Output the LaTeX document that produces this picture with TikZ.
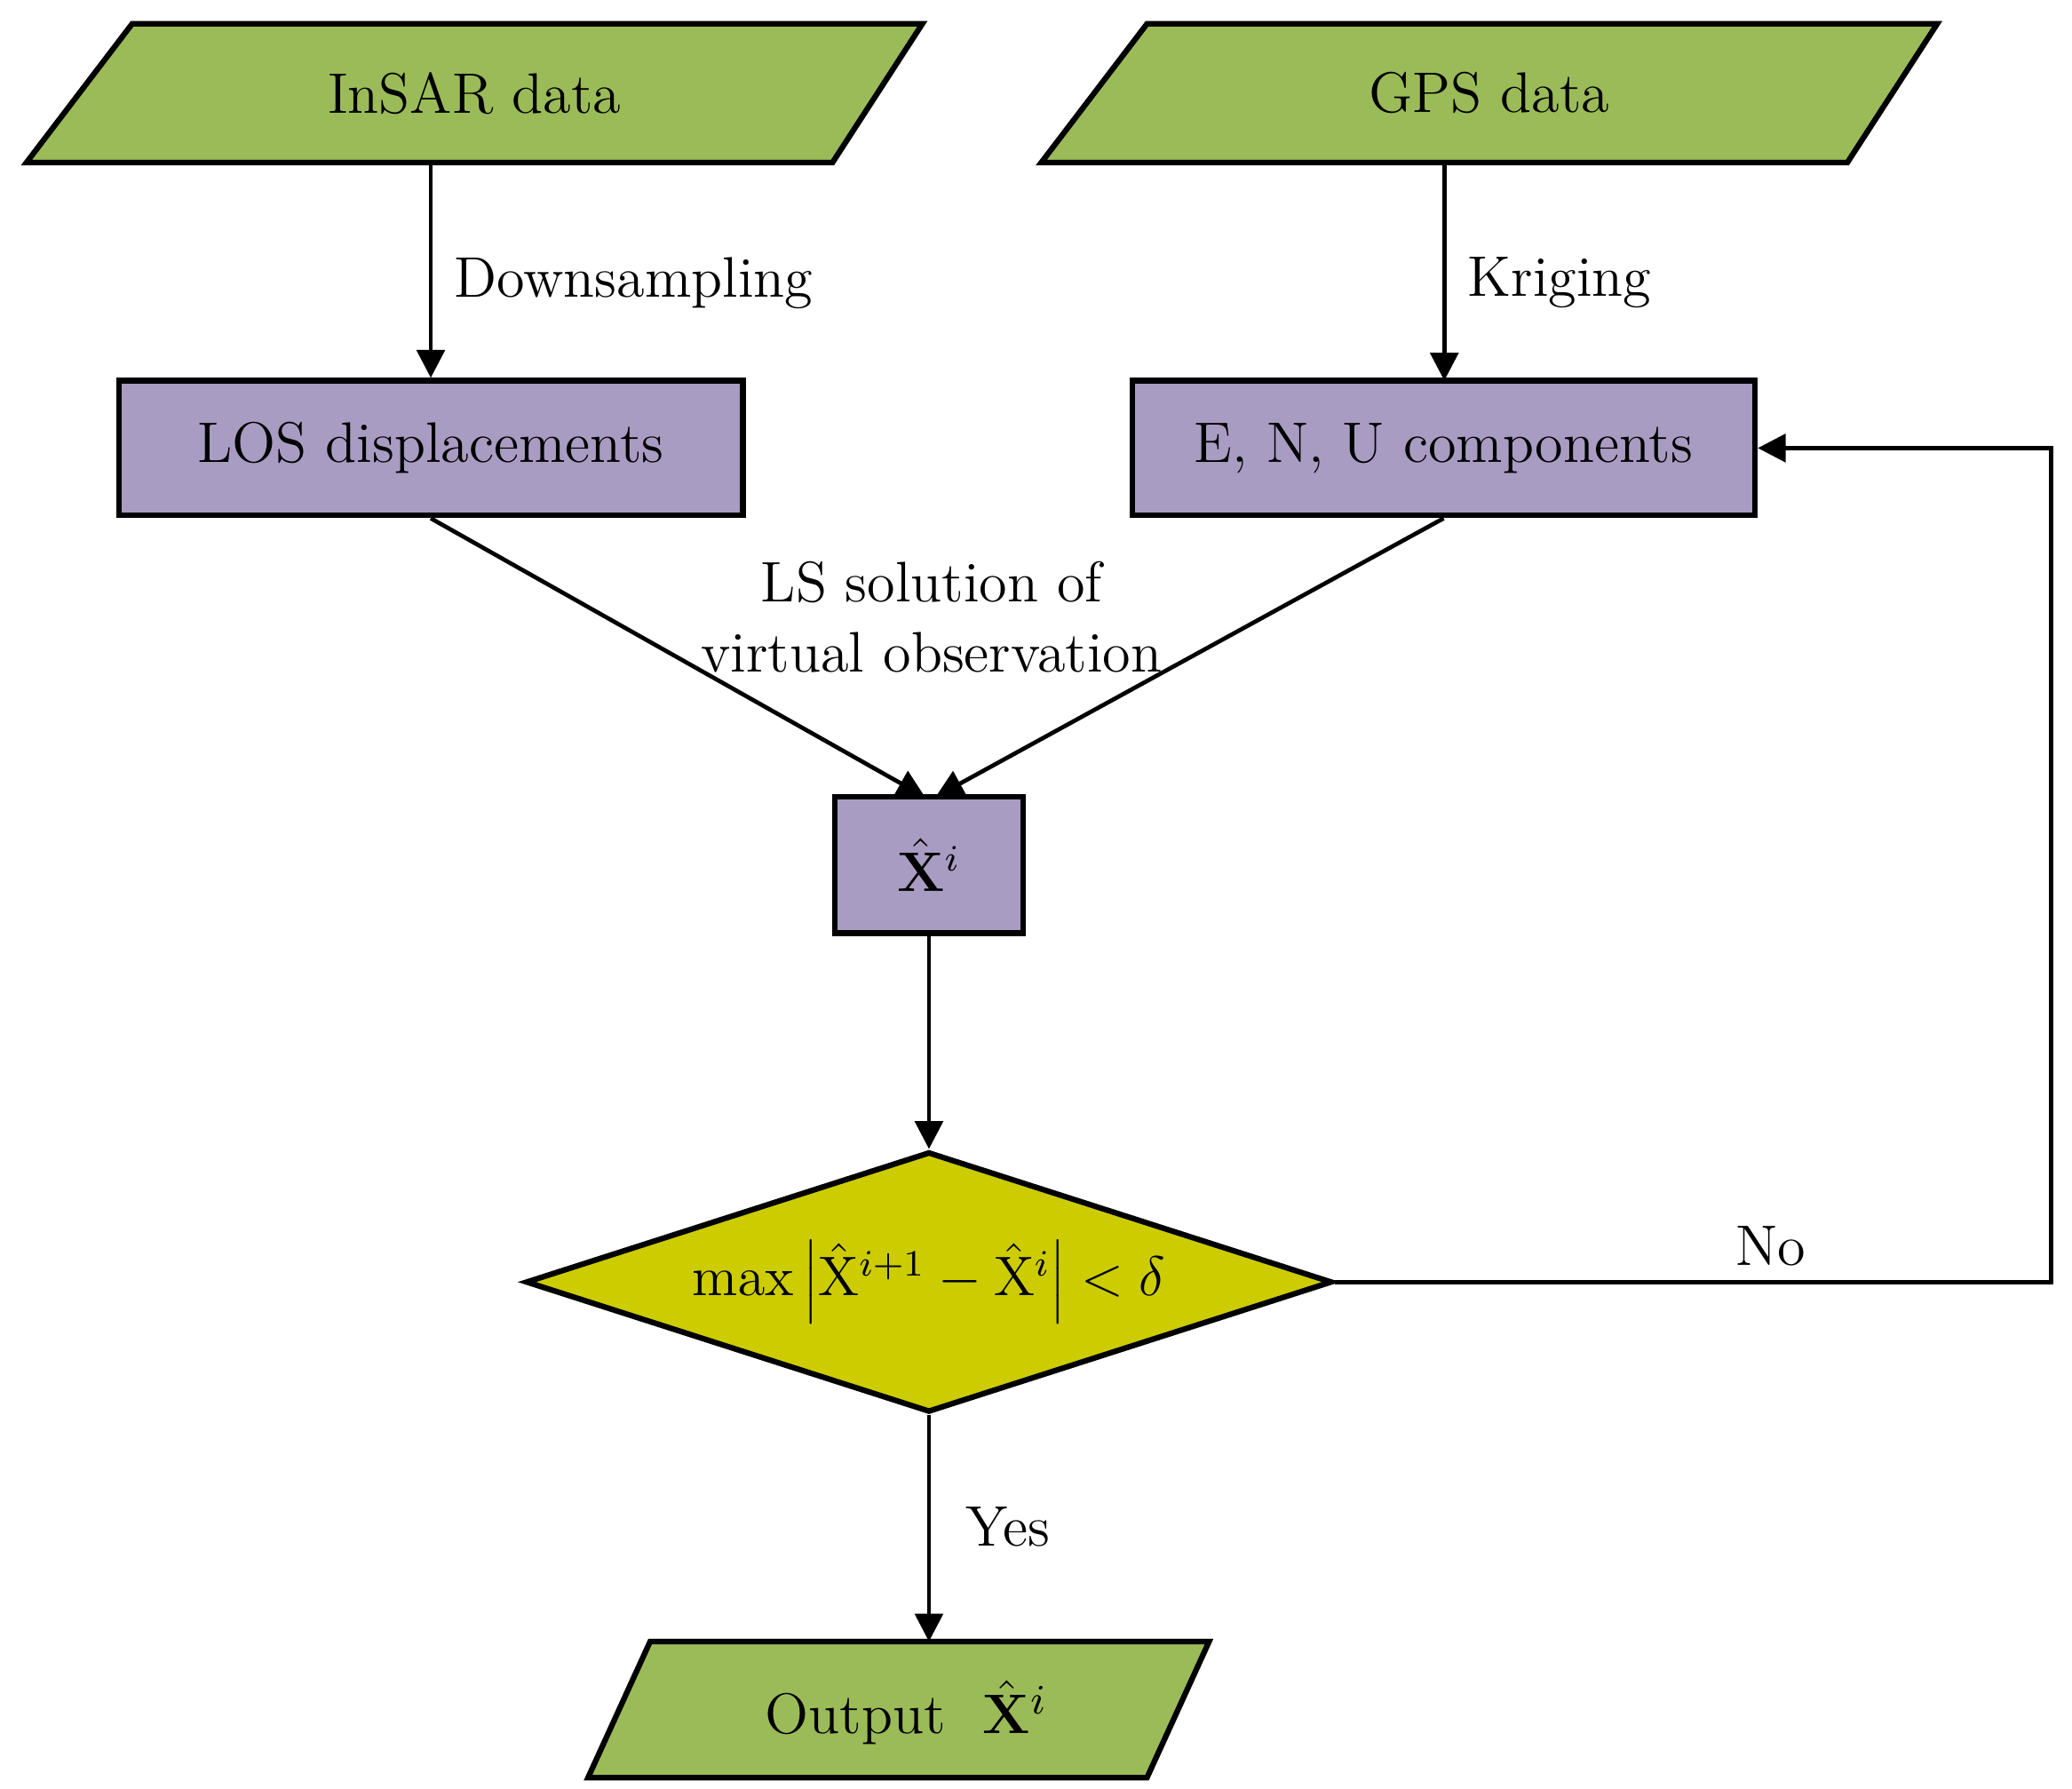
\documentclass[tikz,border=0pt]{standalone}
\usetikzlibrary{shapes.geometric,arrows.meta}
\definecolor{grn}{HTML}{9BBB59}
\definecolor{prp}{HTML}{A99CC3}
\definecolor{ylw}{HTML}{CCCC00}
\begin{document}
\fontsize{12.3}{15}\selectfont
\begin{tikzpicture}[x=0.01cm,y=-0.01cm,
  shp/.style={draw=black,line width=1.2pt},
  box/.style={shp,fill=prp,rectangle,inner sep=0pt},
  lbl/.style={inner sep=0pt},
  arr/.style={line width=0.9pt,-{Triangle[length=6pt,width=6pt]}}]
\useasboundingbox (0,0) rectangle (1568,1353);
% parallelograms
\filldraw[shp,fill=grn] (100,18)--(698,18)--(630,123)--(20,123)--cycle;
\node[lbl,minimum width=6.1cm,minimum height=1.05cm] (insar) at (359,70.5) {InSAR data};
\filldraw[shp,fill=grn] (868,18)--(1466,18)--(1398,123)--(788,123)--cycle;
\node[lbl,minimum width=6.1cm,minimum height=1.05cm] (gps) at (1127,70.5) {GPS data};
\filldraw[shp,fill=grn] (492,1242)--(915,1242)--(868,1345)--(445,1345)--cycle;
\node[lbl,minimum width=4.23cm,minimum height=1.03cm] (out) at (686,1296) {Output \ $\hat{\mathbf{X}}^i$};
% boxes
\node[box,minimum width=4.72cm,minimum height=1.02cm] (los) at (326,339) {LOS displacements};
\node[box,minimum width=4.71cm,minimum height=1.02cm] (enu) at (1092.5,339) {E, N, U components};
\node[box,minimum width=1.42cm,minimum height=1.03cm] (x) at (703,654.5) {\large$\hat{\mathbf{X}}^i$};
\node[shp,diamond,fill=ylw,minimum width=6.1cm,minimum height=1.97cm,inner sep=0pt,aspect=3.1] (d) at (703,970) {};
\node[lbl] at (703,970) {\large$\max\left|\hat{\mathrm{X}}^{i+1}-\hat{\mathrm{X}}^{i}\right|<\delta$};
% connectors
\draw[arr] (326,123) -- (los.north);
\draw[arr] (1093,123) -- (1093,288);
\node[lbl,anchor=west] at (343,214) {Downsampling};
\node[lbl,anchor=west] at (1110,214) {Kriging};
\coordinate (xl) at (700,603);
\coordinate (xr) at (708,603);
\draw[arr] (los.south) -- (xl);
\draw[arr] (enu.south) -- (xr);
\node[lbl,align=center] at (705,467) {LS solution of\\virtual observation};
\draw[arr] (x.south) -- (d.north);
\coordinate (c1) at (1552,970);
\coordinate (c2) at (1552,339);
\draw[arr] (d.east) -- (c1) -- (c2) -- (enu.east);
\node[lbl] at (1340,943) {No};
\draw[arr] (d.south) -- (703,1242);
\node[lbl,anchor=west] at (730,1155) {Yes};
\end{tikzpicture}
\end{document}
